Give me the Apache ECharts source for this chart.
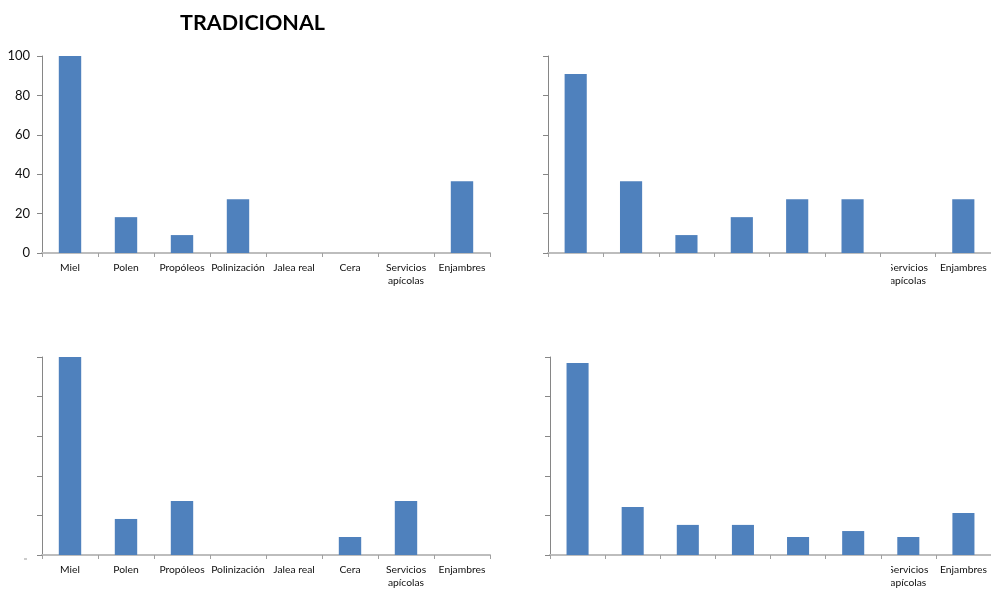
<!DOCTYPE html>
<html>
<head>
<meta charset="utf-8">
<script src="https://cdn.jsdelivr.net/npm/echarts@6/dist/echarts.min.js"></script>
<style>html,body{margin:0;padding:0;background:#fff;}#c{width:991px;height:590px;}</style>
</head>
<body>
<div id="c"></div>
<script>
var categories = ['Miel','Polen','Propóleos','Polinización','Jalea real','Cera','Servicios\napícolas','Enjambres'];
var yTicks = [0, 20, 40, 60, 80, 100];
var tradicional = [100, 18.2, 9.1, 27.3, 0, 0, 0, 36.4];
var chart2 = [90.9, 36.4, 9.1, 18.2, 27.3, 27.3, 0, 27.3];
var chart3 = [100, 18.2, 27.3, 0, 0, 9.1, 27.3, 0];
var chart4 = [97.0, 24.2, 15.2, 15.2, 9.1, 12.1, 9.1, 21.2];

var FONT = 'Lato';
var grids = [
  {left: 42, top: 56, width: 448, height: 197},
  {left: 548, top: 56, width: 448, height: 197},
  {left: 42, top: 357, width: 448, height: 198},
  {left: 550, top: 357, width: 448, height: 198}
];
var seriesData = [tradicional, chart2, chart3, chart4];
var xAxes = [], yAxes = [], series = [];
for (var i = 0; i < 4; i++) {
  xAxes.push({
    type: 'category', gridIndex: i, data: categories,
    boundaryGap: true,
    axisLine: {lineStyle: {color: '#BDBDBD', width: 2}},
    axisTick: {show: true, length: 4, lineStyle: {color: '#A0A0A0'}},
    axisLabel: {show: true, interval: 0, fontFamily: FONT, fontSize: 10.3, color: '#111', margin: 8, lineHeight: 13}
  });
  yAxes.push({
    type: 'value', gridIndex: i, min: yTicks[0], max: yTicks[yTicks.length-1], interval: 20,
    axisLine: {show: true, lineStyle: {color: '#868686', width: 1}},
    axisTick: {show: true, length: 5, lineStyle: {color: '#868686'}},
    splitLine: {show: false},
    axisLabel: {show: i === 0, fontFamily: FONT, fontSize: 13, color: '#111', margin: 12}
  });
  series.push({
    type: 'bar', xAxisIndex: i, yAxisIndex: i, data: seriesData[i],
    barWidth: '40%',
    itemStyle: {color: '#4F81BD', borderWidth: 0},
    silent: true, animation: false
  });
}
var chart = echarts.init(document.getElementById('c'), null, {renderer: 'canvas'});
chart.setOption({
  animation: false,
  title: {text: 'TRADICIONAL', left: 180, top: 12, padding: 0,
    textStyle: {fontFamily: FONT, fontWeight: 'bold', fontSize: 21.5, color: '#000'}},
  grid: grids,
  xAxis: xAxes,
  yAxis: yAxes,
  series: series,
  graphic: [
    {type: 'rect', shape: {x: 520, y: 260, width: 371, height: 40}, style: {fill: '#fff'}, z: 100},
    {type: 'rect', shape: {x: 520, y: 561, width: 371, height: 29}, style: {fill: '#fff'}, z: 100},
    {type: 'line', shape: {x1: 24, y1: 559, x2: 27, y2: 559}, style: {stroke: '#999', lineWidth: 1}, z: 100}
  ]
});
</script>
</body>
</html>
